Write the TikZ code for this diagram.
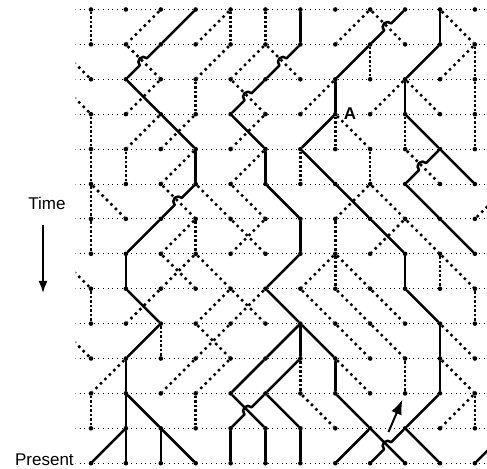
\documentclass[tikz,border=0pt]{standalone}
\usepackage{fontspec}
\setmainfont{Liberation Sans}
\usetikzlibrary{calc,arrows.meta}

\tikzset{
  dot/.style={circle,fill,inner sep=0pt,minimum size=4.6pt},
  grid/.style={line width=0.9pt,dash pattern=on 0.9pt off 3.8pt},
  lostv/.style={line width=2.5pt,dash pattern=on 2.5pt off 2pt},
  lostd/.style={line width=2.5pt,dash pattern=on 2.5pt off 3.8pt},
  anc/.style={line width=2.5pt,line cap=round,line join=round},
  lbl/.style={font=\fontsize{17}{20}\selectfont},
}

\begin{document}
\begin{tikzpicture}[x=34.9pt,y=34.9pt]
\useasboundingbox (-2.607,0.272) rectangle (11.347,-13.138);

\foreach \g in {0,...,13}{
  \foreach \k in {0,...,11}
    \node[dot] (g\g-\k) at (\k,-\g) {};
  \coordinate (g\g--1) at (-1,-\g);
  \coordinate (g\g-12) at (12,-\g);
}

\begin{scope}
\clip (-0.44,0.272) rectangle (11.347,-13.138);
\foreach \g in {0,...,13}
  \path[draw,grid] (g\g--1) -- (g\g-12);

% lineages that leave no descendant
\foreach \g/\k/\p in {
  1/0/0, 1/1/2, 1/3/4, 1/4/4, 1/5/5, 1/7/8, 1/9/8, 1/11/10,
  2/0/-1, 2/2/1, 2/3/4, 2/4/5, 2/6/5, 2/8/8, 2/10/11, 2/11/11,
  3/0/-1, 3/1/2, 3/3/3, 3/5/4, 3/6/7, 3/8/9, 3/10/9, 3/11/11,
  4/0/0, 4/1/2, 4/2/3, 4/4/5, 4/7/7, 4/8/7, 4/9/9, 4/11/11,
  5/0/0, 5/1/1, 5/2/3, 5/4/5, 5/6/6, 5/8/8, 5/10/9,
  6/0/0, 6/1/0, 6/3/2, 6/4/3, 6/5/4, 6/7/8, 6/9/8, 6/11/12,
  7/0/0, 7/2/3, 7/3/3, 7/4/5, 7/5/4, 7/7/7, 7/8/9, 7/10/9,
  8/0/-1, 8/2/3, 8/3/2, 8/4/3, 8/6/7, 8/7/7, 8/8/7, 8/10/10, 8/11/10,
  9/0/0, 9/1/2, 9/3/4, 9/4/5, 9/5/4, 9/7/6, 9/8/7, 9/9/8, 9/11/11,
  10/0/-1, 10/2/2, 10/3/4, 10/4/3, 10/8/7, 10/9/8, 10/11/10,
  11/0/1, 11/2/3, 11/3/4, 11/6/6, 11/8/7, 11/9/9, 11/11/10,
  12/0/0, 12/3/3, 12/7/6, 12/10/11, 12/11/11}{
  \pgfmathtruncatemacro\q{\g-1}
  \ifnum\k=\p \def\sty{lostv}\else\def\sty{lostd}\fi
  \path[draw,\sty] (g\q-\p) -- (g\g-\k);
}

% ancestral lineages
\foreach \g/\k/\p in {
  1/2/3, 1/6/6, 1/10/10,
  2/7/8, 2/9/10,
  3/2/1, 3/7/7, 3/9/9,
  4/3/2, 4/5/4, 4/6/7, 4/10/9,
  5/3/3, 5/5/5, 5/7/6, 5/11/10,
  6/6/5, 6/8/7, 6/10/9,
  7/1/2, 7/6/6, 7/9/8, 7/11/10,
  8/1/1, 8/5/6, 8/9/9,
  9/2/1, 9/6/5, 9/10/9,
  10/1/2, 10/5/6, 10/6/6, 10/7/6, 10/10/10,
  11/1/1, 11/4/5, 11/5/6, 11/7/7, 11/10/10,
  12/1/1, 12/2/1, 12/5/4, 12/6/5, 12/8/7, 12/9/10,
  13/0/1, 13/1/1, 13/2/2, 13/3/2, 13/4/4, 13/5/5, 13/6/6,
  13/7/8, 13/9/8, 13/10/9, 13/11/12}{
  \pgfmathtruncatemacro\q{\g-1}
  \path[draw,anc] (g\q-\p) -- (g\g-\k);
}
\foreach \g/\k/\p in {1/8/9, 2/1/2, 2/5/6, 3/4/5, 5/9/10, 6/2/3, 12/4/5, 13/8/9}{
  \pgfmathtruncatemacro\q{\g-1}
  \path[draw,anc] (g\q-\p) -- ($(g\q-\p)!.5!(g\g-\k)!5pt!(g\q-\p)$)
    arc[start angle=45,end angle=225,radius=5pt] -- (g\g-\k);
}
\end{scope}

\node[lbl,font=\fontsize{17}{20}\selectfont\bfseries,anchor=west,inner sep=0pt] (a) at (7.24,-2.99) {A};

\node[lbl] (time) at (-1.26,-5.544) {Time};
\coordinate (past) at (-1.375,-8.123);
\path[draw,line width=1.6pt,-{Latex[length=12pt,width=9pt]},shorten <=12pt] (time.south -| past) -- (past);

\node[lbl,anchor=base east,inner sep=1pt] (present) at (-0.46,-13.06) {Present};

\coordinate (probe) at (8.524,-12.106);
\path[draw,line width=2pt,-{Latex[length=15pt,width=11pt]},shorten >=4pt] (probe) -- (g11-9);
\end{tikzpicture}
\end{document}
